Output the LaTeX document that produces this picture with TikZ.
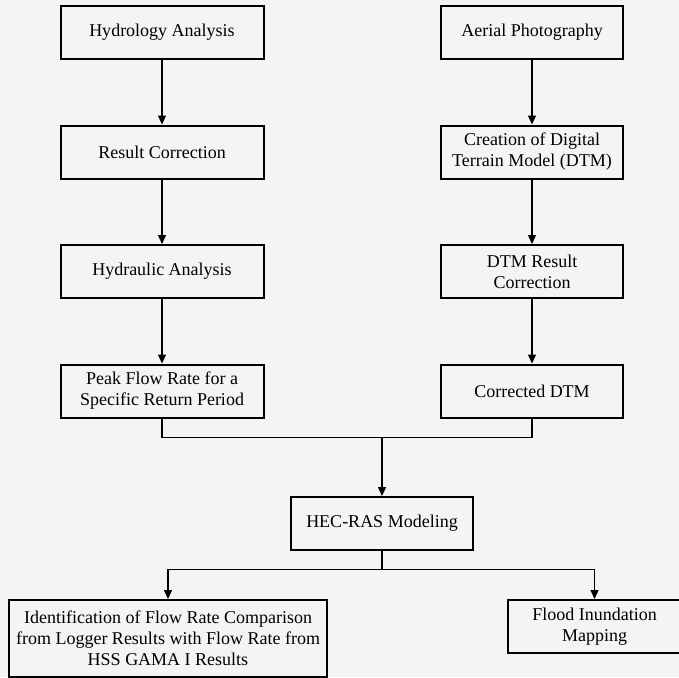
\documentclass[tikz,border=0pt]{standalone}
\usepackage{fontspec}
\setmainfont{Liberation Serif}
\usetikzlibrary{calc,positioning,arrows.meta,backgrounds}
\definecolor{bgc}{HTML}{F4F4F4}

\begin{document}
\begin{tikzpicture}[x=0.5pt, y=-0.5pt,
 box/.style={draw, line width=1pt, align=center, inner sep=1pt, font=\fontsize{9}{10.5}\selectfont},
 lbox/.style={box, minimum width=101.5pt, minimum height=26.5pt},
 rbox/.style={box, minimum width=91pt, minimum height=26.5pt},
 arr/.style={-{Triangle[width=4pt,length=4.5pt]}, line width=0.6pt},
 ln/.style={line width=0.6pt}]
\fill[bgc] (0,0) rectangle (679,677);
\useasboundingbox (0,0) rectangle (679,677);
% left column
\node[lbox] (hyd) at (162,32.5) {Hydrology Analysis};
\node[lbox] (res) at (162,152) {Result Correction};
\node[lbox] (hydr) at (162,271.5) {Hydraulic Analysis};
\node[lbox] (peak) at (162,391) {Peak Flow Rate for a\\Specific Return Period};
% right column
\node[rbox] (aer) at (532,32.5) {Aerial Photography};
\node[rbox] (dtm) at (532,152) {Creation of Digital\\Terrain Model (DTM)};
\node[rbox] (dtmc) at (532,271.5) {DTM Result\\Correction};
\node[rbox] (cdtm) at (532,391) {Corrected DTM};
% bottom
\node[rbox] (hec) at (382,523.5) {HEC-RAS Modeling};
\node[box, minimum width=159pt, minimum height=38.5pt] (ident) at (168,638.5) {Identification of Flow Rate Comparison\\from Logger Results with Flow Rate from\\HSS GAMA I Results};
\node[box, minimum width=86.5pt, minimum height=26.5pt] (flood) at (594.5,626.5) {Flood Inundation\\Mapping};
\coordinate (join) at (382,437.5);
\coordinate (split) at (382,569.5);
\foreach \a/\b in {hyd/res,res/hydr,hydr/peak,aer/dtm,dtm/dtmc,dtmc/cdtm}{\draw[arr] (\a) -- (\b);}
\draw[ln] (peak.south) |- (join) -| (cdtm.south);
\draw[arr] (join) -- (hec);
\draw[ln] (hec) -- (split);
\draw[arr] (split) -| (ident);
\draw[arr] (split) -| (flood);
\end{tikzpicture}
\end{document}
